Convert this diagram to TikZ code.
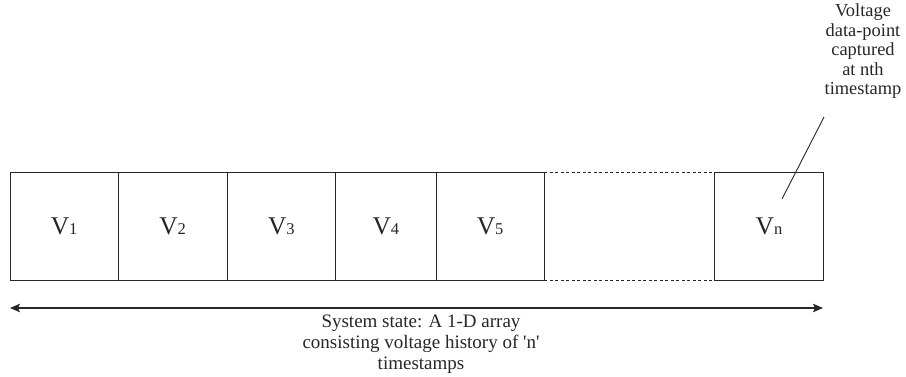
\documentclass[tikz,border=0pt]{standalone}
\usepackage{fontspec}
\setmainfont{Liberation Serif}[Ligatures=TeXOff]
\usetikzlibrary{arrows.meta}
\begin{document}
\begin{tikzpicture}[x=1pt,y=-1pt,
  cell/.style={draw=black!85, line width=0.9pt, minimum height=108.5pt, inner sep=0pt, outer sep=0pt, text=black!85},
  dashline/.style={draw=black!85, line width=0.9pt, dash pattern=on 3pt off 2.5pt},
  biarrow/.style={draw=black!85, line width=1.2pt, {Stealth[length=10pt,width=8.5pt,inset=2pt]}-{Stealth[length=10pt,width=8.5pt,inset=2pt]}},
  leader/.style={draw=black!85, line width=0.9pt},
  note/.style={align=center, inner sep=0pt, text=black!85}]
\useasboundingbox (0,0) rectangle (906,376);
\newcommand{\vlab}[1]{{\fontsize{25.5}{30}\selectfont V}{\fontsize{16.5}{19}\selectfont #1}}
\node[cell, minimum width=108.3pt] (b1) at (64.15,226.5) {\vlab{1}};
\node[cell, minimum width=108.7pt] (b2) at (172.65,226.5) {\vlab{2}};
\node[cell, minimum width=108.7pt] (b3) at (281.35,226.5) {\vlab{3}};
\node[cell, minimum width=100.3pt] (b4) at (385.85,226.5) {\vlab{4}};
\node[cell, minimum width=108.3pt] (b5) at (490.15,226.5) {\vlab{5}};
\node[cell, minimum width=109pt] (bn) at (769,226.5) {\vlab{n}};
\draw[dashline] (b5.north east) -- (bn.north west);
\draw[dashline] (b5.south east) -- (bn.south west);
\coordinate (al) at (10,308);
\coordinate (ar) at (823,308);
\draw[biarrow] (al) -- (ar);
\node[note, anchor=north, font=\fontsize{19}{21}\selectfont] (state) at (421,314.5)
  {System state: A 1-D array\\consisting voltage history of 'n'\\timestamps};
\node[note, anchor=north, font=\fontsize{18.4}{19.6}\selectfont] (ann) at (863,3.5)
  {Voltage\\data-point\\captured\\at nth\\timestamp};
\coordinate (lp) at (782,199);
\coordinate (lt) at (824,117);
\draw[leader] (lp) -- (lt);
\end{tikzpicture}
\end{document}
